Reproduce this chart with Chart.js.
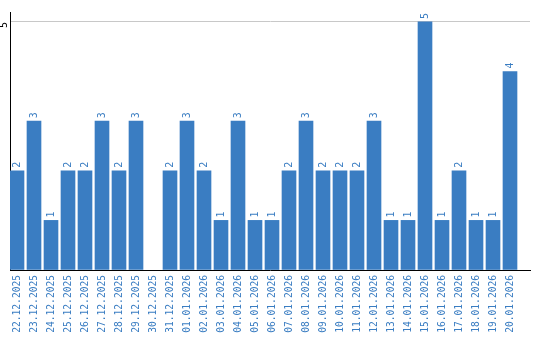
<!DOCTYPE html>
<html>
<head>
<meta charset="utf-8">
<script src="https://cdn.jsdelivr.net/npm/chart.js@4/dist/chart.umd.min.js"></script>
<style>
  html, body { margin: 0; padding: 0; background: #fff; }
  #wrap { width: 540px; height: 340px; }
</style>
</head>
<body>
<div id="wrap"><canvas id="chart"></canvas></div>
<script>
// Days shown on the x axis
const dates = [
  "22.12.2025", "23.12.2025", "24.12.2025", "25.12.2025", "26.12.2025",
  "27.12.2025", "28.12.2025", "29.12.2025", "30.12.2025", "31.12.2025",
  "01.01.2026", "02.01.2026", "03.01.2026", "04.01.2026", "05.01.2026",
  "06.01.2026", "07.01.2026", "08.01.2026", "09.01.2026", "10.01.2026",
  "11.01.2026", "12.01.2026", "13.01.2026", "14.01.2026", "15.01.2026",
  "16.01.2026", "17.01.2026", "18.01.2026", "19.01.2026", "20.01.2026"
];
// Count per day
const counts = [2, 3, 1, 2, 2, 3, 2, 3, 0, 2, 3, 2, 1, 3, 1, 1, 2, 3, 2, 2, 2, 3, 1, 1, 5, 1, 2, 1, 1, 4];
// Only tick drawn on the value axis
const yTicks = [5];

const BLUE = "#3a7dc2";
const MONO = "'DejaVu Sans Mono', 'Liberation Mono', monospace";

// Value labels written upwards above each bar
const barLabels = {
  id: "barLabels",
  afterDatasetsDraw(chart) {
    const ctx = chart.ctx;
    const meta = chart.getDatasetMeta(0);
    ctx.save();
    ctx.fillStyle = BLUE;
    ctx.font = "10px " + MONO;
    ctx.textAlign = "left";
    ctx.textBaseline = "middle";
    meta.data.forEach((bar, i) => {
      if (!counts[i]) return;
      ctx.save();
      ctx.translate(bar.x, bar.y - 3);
      ctx.rotate(-Math.PI / 2);
      ctx.fillText(String(counts[i]), 0, 0);
      ctx.restore();
    });
    ctx.restore();
  }
};

// x range so that each day takes 17px and the first bar touches the y axis
const xMin = -7 / 17;
const xMax = xMin + 520 / 17;

new Chart(document.getElementById("chart"), {
  type: "bar",
  data: {
    datasets: [{
      // empty days get no bar at all
      data: counts.map((c, i) => ({ x: i, y: c === 0 ? null : c })),
      backgroundColor: BLUE,
      borderWidth: 0,
      barThickness: 14
    }]
  },
  options: {
    responsive: true,
    maintainAspectRatio: false,
    animation: false,
    layout: { padding: { top: 10, right: 10, left: 0, bottom: 0 } },
    plugins: {
      legend: { display: false },
      tooltip: { enabled: false }
    },
    scales: {
      x: {
        type: "linear",
        offset: false,
        bounds: "data",
        min: xMin,
        max: xMax,
        afterBuildTicks: scale => { scale.ticks = dates.map((d, i) => ({ value: i })); },
        afterFit: scale => { scale.height = 70; },
        grid: { display: false, drawTicks: false, offset: false },
        border: { display: true, color: "#000", width: 1 },
        ticks: {
          autoSkip: false,
          minRotation: 90,
          maxRotation: 90,
          padding: 5,
          color: BLUE,
          font: { family: MONO, size: 9.6 },
          callback: v => dates[v]
        }
      },
      y: {
        min: 0,
        max: 5.2,
        afterBuildTicks: scale => { scale.ticks = [{ value: 0 }].concat(yTicks.map(v => ({ value: v }))); },
        afterFit: scale => { scale.width = 10; },
        grid: {
          drawTicks: false,
          color: c => (c.tick && c.tick.value > 0 ? "#c8c8c8" : "rgba(0,0,0,0)"),
          lineWidth: 1
        },
        border: { display: true, color: "#000", width: 1 },
        ticks: {
          minRotation: 90,
          maxRotation: 90,
          padding: 6,
          color: "#000",
          font: { family: MONO, size: 10 },
          callback: v => (yTicks.includes(v) ? String(v) : "")
        }
      }
    }
  },
  plugins: [barLabels]
});
</script>
</body>
</html>
